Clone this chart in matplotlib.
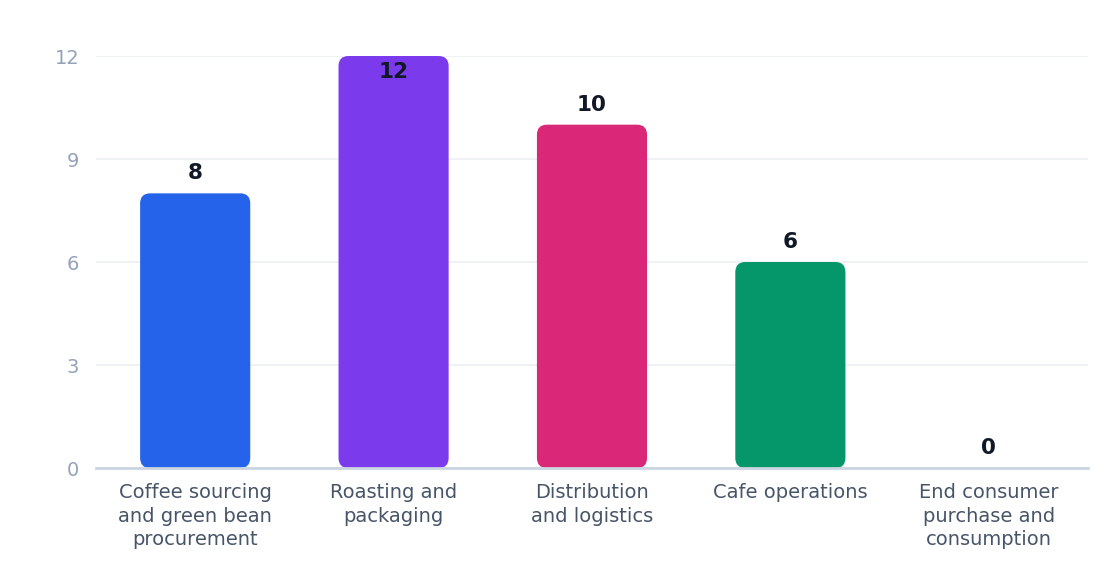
import numpy as np
from matplotlib import pyplot as plt
from matplotlib.patches import FancyBboxPatch

plt.rcParams['font.family'] = ['DejaVu Sans']

stages = ["Coffee sourcing\nand green bean\nprocurement", "Roasting and\npackaging",
          "Distribution\nand logistics", "Cafe operations",
          "End consumer\npurchase and\nconsumption"]
values = [8, 12, 10, 6, 0]
colors = ["#2563EB", "#7C3AED", "#DB2777", "#059669", "#D97706"]
yticks = [0, 3, 6, 9, 12]

fig = plt.figure(figsize=(11.2, 5.84), dpi=100)
ax = fig.add_axes([0.0857, 0.1986, 0.8857, 0.7055])

x = np.arange(len(stages))
bar_w = 0.555
ax.set_xlim(-0.5, len(stages) - 0.5)
ax.set_ylim(0, 12)

# rounded bars: corners ~10px, convert to data units
bbox = ax.get_window_extent()
x_per_px = (len(stages)) / bbox.width
y_per_px = 12 / bbox.height
rad = 10 * x_per_px
for xi, v, c in zip(x, values, colors):
    if v <= 0:
        continue
    p = FancyBboxPatch((xi - bar_w / 2, 0), bar_w, v,
                       boxstyle="round,pad=0,rounding_size=%f" % rad,
                       mutation_aspect=y_per_px / x_per_px,
                       facecolor=c, edgecolor="none", zorder=3)
    ax.add_patch(p)

for xi, v in zip(x, values):
    y = v + 10 * y_per_px
    va = "bottom"
    if y + 22 * y_per_px > 12:
        y = v - 6 * y_per_px
        va = "top"
    ax.text(xi, y, str(v), ha="center", va=va, fontsize=15.5,
            fontweight="bold", color="#111827", zorder=4, clip_on=False)

ax.set_yticks(yticks)
ax.set_xticks(x)
ax.set_xticklabels(stages, fontsize=14, color="#475569", linespacing=1.3)
ax.tick_params(axis="y", labelsize=14, labelcolor="#94A3B8", length=0, pad=12)
ax.tick_params(axis="x", length=0, pad=11)
ax.grid(axis="y", color="#EEF1F5", linewidth=1.3, zorder=0)
ax.set_axisbelow(True)
for s in ["top", "right", "left"]:
    ax.spines[s].set_visible(False)
ax.spines["bottom"].set_color("#CBD5E1")
ax.spines["bottom"].set_linewidth(2)
ax.spines["bottom"].set_zorder(5)

plt.savefig("out.png", dpi=100)
